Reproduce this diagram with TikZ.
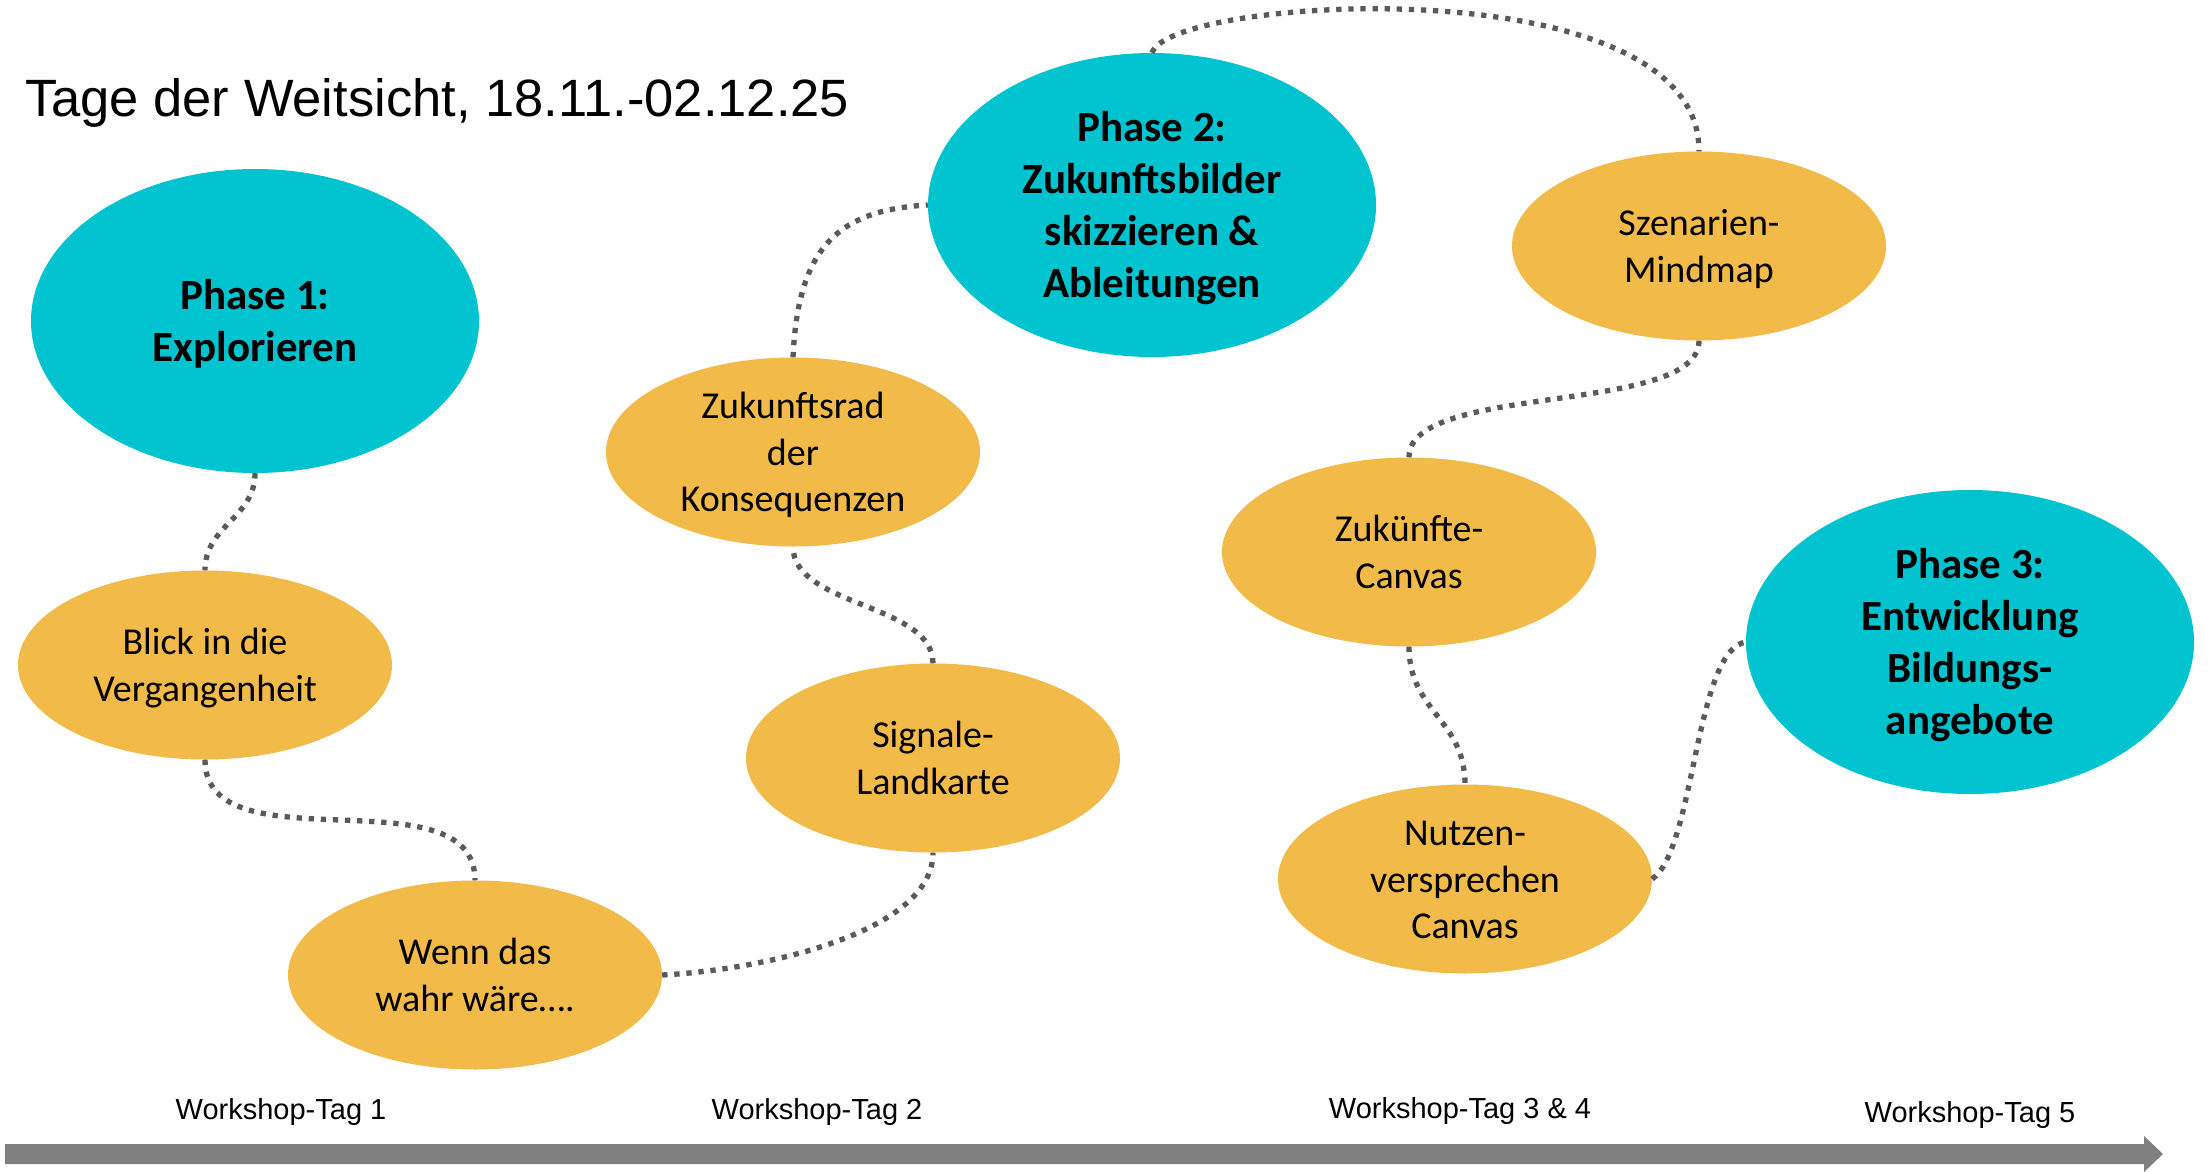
\documentclass[tikz,border=0pt]{standalone}
\usepackage{fontspec}
\setmainfont{Carlito}
\newfontfamily\arialfont{Liberation Sans}
\usetikzlibrary{shapes.geometric}
\definecolor{phasecyan}{RGB}{0,195,208}
\definecolor{stepgold}{RGB}{242,186,72}
\definecolor{linkgray}{RGB}{90,90,90}
\definecolor{timegray}{RGB}{128,128,128}
\begin{document}
\begin{tikzpicture}[x=1pt,y=-1pt,
  phase/.style={ellipse, fill=phasecyan, minimum width=448pt, minimum height=304pt,
    inner sep=0pt, align=center, font=\fontsize{43}{52}\selectfont\bfseries},
  task/.style={ellipse, fill=stepgold, minimum width=374pt, minimum height=189pt,
    inner sep=0pt, align=center, font=\fontsize{38}{46.5}\selectfont},
  % text box from the last baseline upwards; its middle sits on the shape centre
  textbox/.style={text height=#1, text depth=0pt},
  link/.style={draw=linkgray, line width=5.3pt, dash pattern=on 5.3pt off 6.8pt},
  daylabel/.style={font=\arialfont\fontsize{29}{34}\selectfont, anchor=base, inner sep=0pt}]

% canvas
\fill[white] (0,0) rectangle (2209,1172);
\useasboundingbox (0,0) rectangle (2209,1172);

% title
\node[anchor=base west, inner sep=0pt, font=\arialfont\fontsize{52.5}{60}\selectfont]
  (title) at (25,116) {Tage der Weitsicht, 18.11.-02.12.25};

% phases
\node[phase, textbox=81pt]  (p1) at (255,321) {Phase 1:\\Explorieren};
\node[phase, textbox=185pt] (p2) at (1152,205) {Phase 2:\\Zukunftsbilder\\skizzieren \&\\Ableitungen};
\node[phase, textbox=185pt] (p3) at (1970,642) {Phase 3:\\Entwicklung\\Bildungs-\\angebote};

% workshop steps
\node[task, textbox=72.5pt] (blick) at (205,665) {Blick in die\\Vergangenheit};
\node[task, textbox=72.5pt] (wenn)  at (475,975) {Wenn das\\wahr wäre….};
\node[task, textbox=119pt]  (zrad)  at (793,452) {Zukunftsrad\\der\\Konsequenzen};
\node[task, textbox=72.5pt] (sig)   at (933,758) {Signale-\\Landkarte};
\node[task, textbox=72.5pt] (szen)  at (1699,246) {Szenarien-\\Mindmap};
\node[task, textbox=72.5pt] (zuk)   at (1409,552) {Zukünfte-\\Canvas};
\node[task, textbox=119pt]  (nutz)  at (1465,879) {Nutzen-\\versprechen\\Canvas};

% dotted path through the workshop
\draw[link] (p1.south)   .. controls +(0,45) and +(0,-45) .. (blick.north);
\draw[link] (blick.south) .. controls +(0,110) and +(0,-110) .. (wenn.north);
\draw[link] (wenn.east)  .. controls +(100,-5) and +(0,80) .. (sig.south);
\draw[link] (sig.north)  .. controls +(0,-60) and +(0,60) .. (zrad.south);
\draw[link] (zrad.north) .. controls +(5,-110) and +(-90,5) .. (p2.west);
\draw[link] (p2.north)   .. controls +(18,-57) and +(1,-187) .. (szen.north);
\draw[link] (szen.south) .. controls +(0,75) and +(0,-75) .. (zuk.north);
\draw[link] (zuk.south)  .. controls +(0,65) and +(0,-65) .. (nutz.north);
\draw[link] (nutz.east)  .. controls +(43,-30) and +(-51,8) .. (p3.west);

% timeline
\fill[timegray] (5,1144) -- (2144,1144) -- (2144,1136) -- (2163,1154)
  -- (2144,1172) -- (2144,1164) -- (5,1164) -- cycle;
\node[daylabel] (d1) at (281,1119) {Workshop-Tag 1};
\node[daylabel] (d2) at (817,1119) {Workshop-Tag 2};
\node[daylabel] (d3) at (1460,1118) {Workshop-Tag 3 \& 4};
\node[daylabel] (d5) at (1970,1122) {Workshop-Tag 5};
\end{tikzpicture}
\end{document}
